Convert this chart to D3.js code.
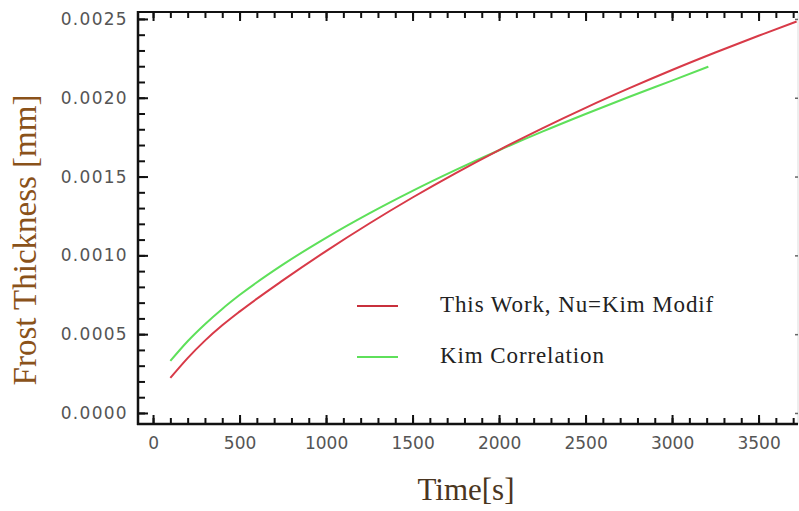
<!DOCTYPE html>
<html><head><meta charset="utf-8">
<script src="https://cdn.jsdelivr.net/npm/d3@7"></script>
<style>body{margin:0;background:#fff}svg{display:block}</style>
</head><body><svg id="c" width="799" height="511"></svg>
<script>
// Data
const redTime  = [100, 200, 300, 400, 500, 750, 1000, 1250, 1500, 1750, 2000, 2250, 2500, 2750, 3000, 3250, 3500, 3720];
const redValue = [0.000222, 0.000348, 0.000459, 0.000556, 0.000643, 0.000841, 0.001027, 0.001202, 0.001367, 0.001522, 0.001668, 0.001806, 0.001936, 0.002059, 0.002176, 0.002287, 0.002393, 0.002484];
const greenTime  = [100, 200, 300, 400, 500, 750, 1000, 1250, 1500, 1750, 2000, 2250, 2500, 2750, 3000, 3210];
const greenValue = [0.00033, 0.000455, 0.000563, 0.00066, 0.000748, 0.000941, 0.001111, 0.001266, 0.001409, 0.001542, 0.001667, 0.001785, 0.001897, 0.002005, 0.002109, 0.002197];
const seriesNames = ["This Work, Nu=Kim Modif", "Kim Correlation"];
const xTicks = [0, 500, 1000, 1500, 2000, 2500, 3000, 3500];
const yTicks = [0.0000, 0.0005, 0.0010, 0.0015, 0.0020, 0.0025];
const xLabel = "Time[s]";
const yLabel = "Frost Thickness [mm]";

const svg = d3.select("#c");
const L = 138, R = 798, T = 12, B = 424;
const x = d3.scaleLinear().domain([-87, 3728]).range([L, R]);
const y = d3.scaleLinear().domain([-0.00007, 0.002544]).range([B, T]);

const xMinor = d3.range(0, 3701, 100);
const yMinor = d3.range(0, 26).map(i => i * 0.0001);

// frame
svg.append("line").attr("x1", R).attr("x2", R).attr("y1", T).attr("y2", B).attr("stroke", "#ddd").attr("stroke-width", 1);
svg.append("line").attr("x1", L).attr("x2", R).attr("y1", T).attr("y2", T).attr("stroke", "#111").attr("stroke-width", 2);

function styleAxis(g) {
  g.select(".domain").remove();
  g.selectAll(".tick line").attr("stroke", "#111").attr("stroke-width", 2);
}
// bottom
svg.append("g").attr("transform", `translate(0,${B})`)
  .call(d3.axisBottom(x).tickValues(xMinor).tickSize(-6).tickFormat("")).call(styleAxis);
const gx = svg.append("g").attr("transform", `translate(0,${B})`)
  .call(d3.axisBottom(x).tickValues(xTicks).tickSize(-9).tickPadding(12).tickFormat(d3.format("d"))).call(styleAxis);
gx.selectAll("text").attr("font-family", "DejaVu Sans").attr("font-size", 17).attr("fill", "#555")
  .attr("dy", "0.75em");
// top
svg.append("g").attr("transform", `translate(0,${T})`)
  .call(d3.axisTop(x).tickValues(xMinor).tickSize(-6).tickFormat("")).call(styleAxis);
svg.append("g").attr("transform", `translate(0,${T})`)
  .call(d3.axisTop(x).tickValues(xTicks).tickSize(-9).tickFormat("")).call(styleAxis);
// left
svg.append("g").attr("transform", `translate(${L},0)`)
  .call(d3.axisLeft(y).tickValues(yMinor).tickSize(-7).tickFormat("")).call(styleAxis);
const gy = svg.append("g").attr("transform", `translate(${L},0)`)
  .call(d3.axisLeft(y).tickValues(yTicks).tickSize(-10).tickPadding(10).tickFormat(d3.format(".4f"))).call(styleAxis);
gy.selectAll("text").attr("font-family", "DejaVu Sans").attr("font-size", 17).attr("fill", "#555")
  .attr("letter-spacing", "1.3px");
// right (faint major ticks)
svg.append("g").attr("transform", `translate(${R},0)`)
  .call(d3.axisRight(y).tickValues(yTicks).tickSize(-3).tickFormat("")).call(g => {
    g.select(".domain").remove();
    g.selectAll(".tick line").attr("stroke", "#666").attr("stroke-width", 1.5);
  });

// axis lines
svg.append("line").attr("x1", L).attr("x2", L).attr("y1", T - 1).attr("y2", B + 1).attr("stroke", "#111").attr("stroke-width", 2.5);
svg.append("line").attr("x1", L - 1).attr("x2", R).attr("y1", B).attr("y2", B).attr("stroke", "#111").attr("stroke-width", 2.5);

// curves
const line = d3.line().x(d => x(d[0])).y(d => y(d[1])).curve(d3.curveMonotoneX);
const redData = redTime.map((t, i) => [t, redValue[i]]);
const greenData = greenTime.map((t, i) => [t, greenValue[i]]);
svg.append("path").datum(greenData).attr("d", line).attr("fill", "none").attr("stroke", "#5ee05a").attr("stroke-width", 2);
svg.append("path").datum(redData).attr("d", line).attr("fill", "none").attr("stroke", "#d83a48").attr("stroke-width", 2);

// legend
const legColors = ["#c8303c", "#5ee05a"];
const legY = [306, 357];
seriesNames.forEach((n, i) => {
  svg.append("line").attr("x1", 357).attr("x2", 398).attr("y1", legY[i]).attr("y2", legY[i])
    .attr("stroke", legColors[i]).attr("stroke-width", 2);
  svg.append("text").attr("x", 440).attr("y", legY[i] + 6).text(n)
    .attr("font-family", "Liberation Serif").attr("font-size", 23).attr("letter-spacing", "0.9px").attr("fill", "#222");
});

// axis titles
svg.append("text").attr("x", 466).attr("y", 500).attr("text-anchor", "middle").text(xLabel)
  .attr("font-family", "Liberation Serif").attr("font-size", 31).attr("fill", "#4a3520");
svg.append("text").attr("transform", "translate(36,240) rotate(-90)").attr("text-anchor", "middle").text(yLabel)
  .attr("font-family", "Liberation Serif").attr("font-size", 33).attr("fill", "#8a521a");
</script></body></html>
